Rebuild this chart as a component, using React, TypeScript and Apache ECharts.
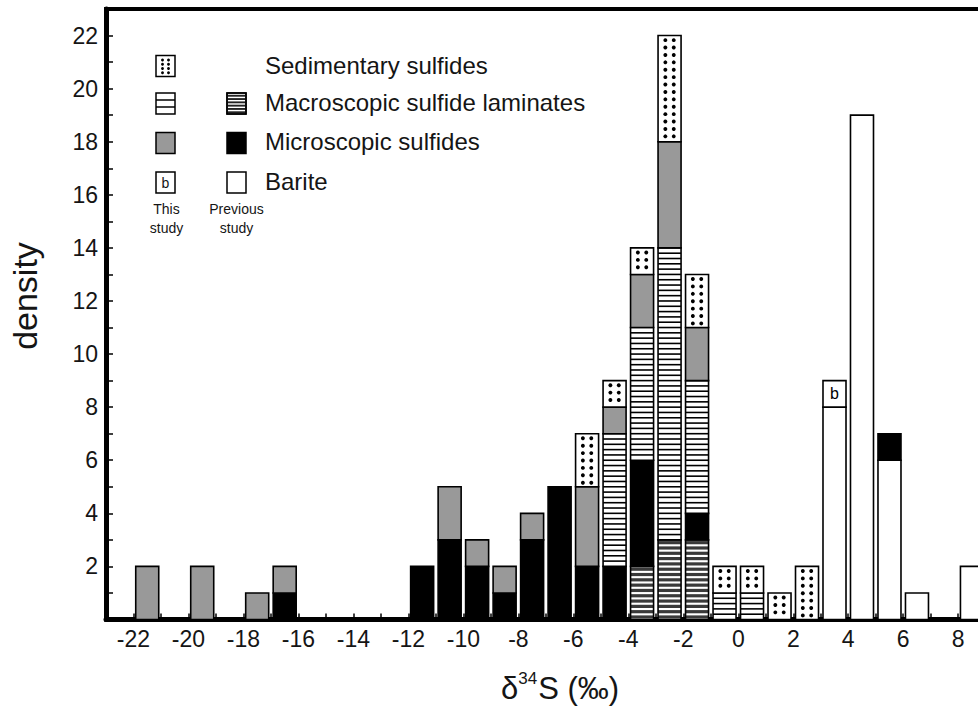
import React, { useEffect, useRef } from 'react';
import * as echarts from 'echarts';

// ---- data (bins are 1 ‰ wide, listed by their left edge) ----
const binStarts = [-22, -21, -20, -19, -18, -17, -16, -15, -14, -13, -12, -11, -10, -9, -8, -7, -6, -5, -4, -3, -2, -1, 0, 1, 2, 3, 4, 5, 6, 7, 8];
const baritePrevious = [0, 0, 0, 0, 0, 0, 0, 0, 0, 0, 0, 0, 0, 0, 0, 0, 0, 0, 0, 0, 0, 0, 0, 0, 0, 8, 19, 6, 1, 0, 2];
const macroPrevious = [0, 0, 0, 0, 0, 0, 0, 0, 0, 0, 0, 0, 0, 0, 0, 0, 0, 0, 2, 3, 3, 0, 0, 0, 0, 0, 0, 0, 0, 0, 0];
const microPrevious = [0, 0, 0, 0, 0, 1, 0, 0, 0, 0, 2, 3, 2, 1, 3, 5, 2, 2, 4, 0, 1, 0, 0, 0, 0, 0, 0, 1, 0, 0, 0];
const macroThis = [0, 0, 0, 0, 0, 0, 0, 0, 0, 0, 0, 0, 0, 0, 0, 0, 0, 5, 5, 11, 5, 1, 1, 0, 0, 0, 0, 0, 0, 0, 0];
const microThis = [2, 0, 2, 0, 1, 1, 0, 0, 0, 0, 0, 2, 1, 1, 1, 0, 3, 1, 2, 4, 2, 0, 0, 0, 0, 0, 0, 0, 0, 0, 0];
const sedimentary = [0, 0, 0, 0, 0, 0, 0, 0, 0, 0, 0, 0, 0, 0, 0, 0, 2, 1, 1, 4, 2, 1, 1, 1, 2, 0, 0, 0, 0, 0, 0];
const bariteThis = [0, 0, 0, 0, 0, 0, 0, 0, 0, 0, 0, 0, 0, 0, 0, 0, 0, 0, 0, 0, 0, 0, 0, 0, 0, 1, 0, 0, 0, 0, 0];

const xLabelValues = [-22, -20, -18, -16, -14, -12, -10, -8, -6, -4, -2, 0, 2, 4, 6, 8];
const yLabelValues = [2, 4, 6, 8, 10, 12, 14, 16, 18, 20, 22];

const legendLabels = ['Sedimentary sulfides', 'Macroscopic sulfide laminates', 'Microscopic sulfides', 'Barite'];

const FONT = '"Liberation Sans", Arial, Helvetica, sans-serif';
const TEXT = '#151515';
const GRAY = '#999999';
const DARK = '#3a3a3a';

type Kind = 'white' | 'black' | 'gray' | 'lines' | 'darkLines' | 'dots' | 'b';

const layers: { name: string; values: number[]; kind: Kind }[] = [
  { name: 'Barite (previous study)', values: baritePrevious, kind: 'white' },
  { name: 'Macroscopic sulfide laminates (previous study)', values: macroPrevious, kind: 'darkLines' },
  { name: 'Microscopic sulfides (previous study)', values: microPrevious, kind: 'black' },
  { name: 'Macroscopic sulfide laminates (this study)', values: macroThis, kind: 'lines' },
  { name: 'Microscopic sulfides (this study)', values: microThis, kind: 'gray' },
  { name: 'Sedimentary sulfides', values: sedimentary, kind: 'dots' },
  { name: 'Barite (this study)', values: bariteThis, kind: 'b' },
];

function makeRender(kind: Kind) {
  return (_params: any, api: any) => {
    const x0 = api.value(0) as number;
    const lo = api.value(1) as number;
    const hi = api.value(2) as number;
    const pLo = api.coord([x0 + 0.5, lo]);
    const pHi = api.coord([x0 + 0.5, hi]);
    const unitX = api.size([1, 0])[0];
    const unitY = api.size([0, 1])[1];
    const w = unitX * 0.837;
    const cx = pLo[0];
    const left = cx - w / 2;
    const top = pHi[1];
    const bottom = pLo[1];
    const h = bottom - top;
    const children: any[] = [];
    const fill = kind === 'black' ? '#000' : kind === 'gray' ? GRAY : '#fff';
    children.push({ type: 'rect', shape: { x: left, y: top, width: w, height: h }, style: { fill } });
    if (kind === 'lines') {
      const step = unitY / 5;
      for (let y = top + step; y < bottom - 1.5; y += step) {
        children.push({ type: 'rect', shape: { x: left, y: y - 0.8, width: w, height: 1.6 }, style: { fill: '#000' } });
      }
    }
    if (kind === 'darkLines') {
      const step = unitY / 5;
      for (let y = top + 1.2; y + 2.5 < bottom; y += step) {
        children.push({ type: 'rect', shape: { x: left, y, width: w, height: Math.min(3.2, bottom - y) }, style: { fill: DARK } });
      }
    }
    if (kind === 'dots') {
      const step = 7.4;
      for (let y = top + 4.6; y < bottom - 2.5; y += step) {
        for (const dx of [-4.2, 4.2]) {
          children.push({ type: 'circle', shape: { cx: cx + dx, cy: y, r: 1.95 }, style: { fill: '#000' } });
        }
      }
    }
    if (kind === 'b') {
      children.push({
        type: 'text',
        style: {
          text: 'b', x: cx, y: (top + bottom) / 2, fontSize: 16, fontFamily: FONT, fill: '#000',
          align: 'center', verticalAlign: 'middle', textAlign: 'center', textVerticalAlign: 'middle',
        },
      });
    }
    children.push({ type: 'rect', shape: { x: left, y: top, width: w, height: h }, style: { fill: 'none', stroke: '#000', lineWidth: 1.6 } });
    return { type: 'group', children };
  };
}

function buildSeries() {
  const base = binStarts.map(() => 0);
  return layers.map((layer) => {
    const data: number[][] = [];
    layer.values.forEach((v, i) => {
      if (v > 0) {
        data.push([binStarts[i], base[i], base[i] + v]);
        base[i] += v;
      }
    });
    return {
      type: 'custom',
      name: layer.name,
      coordinateSystem: 'cartesian2d',
      renderItem: makeRender(layer.kind),
      encode: { x: 0, y: [1, 2] },
      data,
      silent: true,
      z: 2,
    };
  });
}

function textEl(text: string, x: number, y: number, fontSize: number, align = 'left') {
  return {
    type: 'text',
    x,
    y,
    silent: true,
    style: {
      text, fontSize, fontFamily: FONT, fill: TEXT,
      align, verticalAlign: 'middle', textAlign: align, textVerticalAlign: 'middle',
    },
  };
}

function buildLegend() {
  const els: any[] = [];
  const colA = 156;
  const colB = 227;
  const iw = 19;
  const ih = 21;
  const tops = [55.5, 93, 132.5, 172];
  const box = (x: number, y: number, fill: string) => ({
    type: 'rect', shape: { x, y, width: iw, height: ih }, style: { fill, stroke: '#000', lineWidth: 1.5 }, silent: true,
  });
  // row 1: sedimentary (this study only)
  els.push(box(colA, tops[0], '#fff'));
  for (const dx of [6.5, 12.5]) {
    for (const dy of [4.5, 8.8, 13, 17.2]) {
      els.push({ type: 'circle', shape: { cx: colA + dx, cy: tops[0] + dy, r: 1.45 }, style: { fill: '#000' }, silent: true });
    }
  }
  // row 2: macroscopic laminates
  els.push(box(colA, tops[1], '#fff'));
  for (const f of [1 / 3, 2 / 3]) {
    els.push({ type: 'rect', shape: { x: colA, y: tops[1] + ih * f - 0.75, width: iw, height: 1.5 }, style: { fill: '#000' }, silent: true });
  }
  els.push(box(colB, tops[1], '#fff'));
  for (let k = 0; k < 6; k++) {
    els.push({ type: 'rect', shape: { x: colB, y: tops[1] + 1.8 + k * 3.3, width: iw, height: 1.9 }, style: { fill: '#222' }, silent: true });
  }
  els.push(box(colB, tops[1], 'none'));
  // row 3: microscopic
  els.push(box(colA, tops[2], GRAY));
  els.push(box(colB, tops[2], '#000'));
  // row 4: barite
  els.push(box(colA, tops[3], '#fff'));
  els.push(textEl('b', colA + iw / 2, tops[3] + ih / 2, 14, 'center'));
  els.push(box(colB, tops[3], '#fff'));
  // column captions
  els.push(textEl('This', colA + 10.5, 209, 14, 'center'));
  els.push(textEl('study', colA + 10.5, 228, 14, 'center'));
  els.push(textEl('Previous', colB + 9.5, 209, 14, 'center'));
  els.push(textEl('study', colB + 9.5, 228, 14, 'center'));
  // labels
  const ys = [65, 102.5, 141.5, 181.5];
  legendLabels.forEach((t, i) => els.push(textEl(t, 265, ys[i], 24)));
  // axis titles
  els.push({
    type: 'text', x: 25, y: 296, rotation: Math.PI / 2, silent: true,
    style: {
      text: 'density', fontSize: 34, fontFamily: FONT, fill: TEXT,
      align: 'center', verticalAlign: 'middle', textAlign: 'center', textVerticalAlign: 'middle',
    },
  });
  els.push({
    type: 'text', x: 560, y: 688, silent: true,
    style: {
      text: '{n|δ}{s|34}{n|S (‰)}',
      fontFamily: FONT, fill: TEXT,
      align: 'center', verticalAlign: 'middle', textAlign: 'center', textVerticalAlign: 'middle',
      rich: {
        n: { fontSize: 31, fontFamily: FONT, fill: TEXT, lineHeight: 36 },
        s: { fontSize: 17, fontFamily: FONT, fill: TEXT, lineHeight: 36, verticalAlign: 'top', padding: [0, 1, 14, 0] },
      },
    },
  });
  return els;
}

function buildOption() {
  return {
    animation: false,
    backgroundColor: '#fff',
    grid: {
      left: 106, top: 9, right: 14.3, bottom: 90.5,
      show: true, borderColor: '#000', borderWidth: 4, backgroundColor: 'transparent',
      containLabel: false, outerBoundsMode: 'none',
    },
    xAxis: {
      type: 'value', min: -23, max: 9, interval: 1,
      axisLine: { show: true, onZero: false, lineStyle: { color: '#000', width: 5 } },
      axisTick: { show: true, inside: true, length: 6, lineStyle: { color: '#000', width: 1.5 } },
      axisLabel: {
        margin: 8, fontSize: 23, fontFamily: FONT, color: TEXT,
        formatter: (v: number) => (xLabelValues.indexOf(v) >= 0 ? String(v) : ''),
      },
      splitLine: { show: false },
    },
    yAxis: {
      type: 'value', min: 0, max: 23, interval: 1,
      axisLine: { show: true, onZero: false, lineStyle: { color: '#000', width: 5 } },
      axisTick: { show: true, inside: true, length: 7, lineStyle: { color: '#000', width: 1.5 } },
      axisLabel: {
        margin: 8, fontSize: 23, fontFamily: FONT, color: TEXT,
        formatter: (v: number) => (yLabelValues.indexOf(v) >= 0 ? String(v) : ''),
      },
      splitLine: { show: false },
    },
    graphic: { elements: buildLegend() },
    series: buildSeries(),
  };
}

export default function App() {
  const ref = useRef<HTMLDivElement>(null);
  useEffect(() => {
    const chart = echarts.init(ref.current as HTMLDivElement, undefined, { renderer: 'svg' });
    chart.setOption(buildOption() as any);
    return () => chart.dispose();
  }, []);
  return (
    <div
      ref={ref}
      style={{ position: 'fixed', left: 0, top: 0, width: 1000, height: 710, background: '#fff' }}
    />
  );
}
